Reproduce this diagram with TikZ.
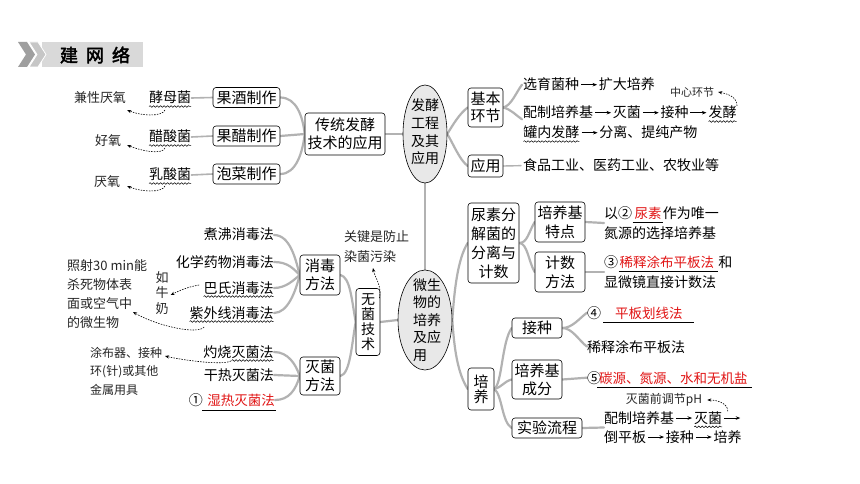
\documentclass[tikz,border=0pt]{standalone}
\usepackage{fontspec}
\setmainfont{Noto Sans CJK SC}
\newfontfamily\hdrfont[AutoFakeBold=2.5]{Noto Sans CJK SC}
\usetikzlibrary{arrows.meta,decorations.pathmorphing,shapes.geometric}
\pgfdeclarelayer{bg}
\pgfsetlayers{bg,main}
\definecolor{conngray}{RGB}{178,178,178}
\definecolor{ansred}{RGB}{225,20,20}
\definecolor{ellfill}{RGB}{232,232,232}
\definecolor{hdrgray}{RGB}{217,217,217}
\newcommand{\myarr}{\hspace{1.5pt}\tikz[baseline=0pt]\draw[-{Stealth[length=4.5pt,width=3.5pt]},line width=0.7pt](0pt,5.3pt)--(16pt,5.3pt);\hspace{1.5pt}}
\newcommand{\wv}[1]{\tikz[baseline=(wvn.base)]{\node[inner sep=0pt,outer sep=0pt](wvn){#1};\draw[line width=0.5pt,decorate,decoration={snake,amplitude=0.8pt,segment length=3.5pt}]([yshift=-3.5pt]wvn.base west)--([yshift=-3.5pt]wvn.base east);}}
\newcommand{\blank}[3]{\tikz[baseline=(bkn.base)]{\node[inner sep=0pt,outer sep=0pt,text=ansred,font=\fontsize{13.5}{16}\selectfont](bkn){#3};\draw[line width=0.6pt]([xshift=-#1,yshift=-4pt]bkn.base west)--([xshift=#2,yshift=-4pt]bkn.base east);}}
\begin{document}
\begin{tikzpicture}[x=1pt,y=-1pt,
  conn/.style={draw=conngray, line width=2.2pt, line cap=round},
  boxn/.style={draw, line width=0.6pt, rounded corners=3pt, inner sep=0pt, fill=white, align=center, font=\fontsize{15}{18}\selectfont},
  txt/.style={inner sep=0pt, font=\fontsize{14}{17}\selectfont},
  ans/.style={inner sep=0pt, text=ansred, font=\fontsize{13.5}{16}\selectfont},
  hand/.style={inner sep=0pt, font=\fontsize{13}{19}\selectfont, text=black!85},
  ell/.style={ellipse, draw, line width=0.6pt, fill=ellfill, inner sep=0pt},
  dotarr/.style={dash pattern=on 1.5pt off 1.2pt, line width=0.6pt, -{Stealth[length=4pt,width=3.2pt]}},
  ulline/.style={line width=0.6pt}]
\useasboundingbox (0,0) rectangle (860,484);
% header
\fill[hdrgray] (42,42) rectangle (143,67);
\fill[gray!75] (18,42)--(27,42)--(35,54.5)--(27,67)--(18,67)--(26,54.5)--cycle;
\filldraw[fill=gray!45, draw=white, line width=0.8pt] (29,42)--(38,42)--(46,54.5)--(38,67)--(29,67)--(37,54.5)--cycle;
\node[inner sep=0pt, font=\hdrfont\bfseries\fontsize{18}{18}\selectfont] (hdr) at (95,55) {建\hspace{8pt}网\hspace{8pt}络};

% ===== top section =====
\node[hand] (n1) at (100,98) {兼性厌氧};
\node[hand] (n2) at (108,141) {好氧};
\node[hand] (n3) at (107,182) {厌氧};
\node[txt, anchor=base] (jm) at (170,103) {\wv{酵母菌}};
\node[txt, anchor=base] (cs) at (170,142) {\wv{醋酸菌}};
\node[txt, anchor=base] (rs) at (170,180) {\wv{乳酸菌}};
\node[boxn, minimum width=67, minimum height=20] (gj) at (246.5,97.5) {果酒制作};
\node[boxn, minimum width=67, minimum height=20] (gc) at (246.5,136) {果醋制作};
\node[boxn, minimum width=67, minimum height=20] (pc) at (246.5,174) {泡菜制作};
\node[boxn, minimum width=80, minimum height=42] (ct) at (345,134) {传统发酵\\技术的应用};
\node[ell, minimum width=44, minimum height=98] (e1) at (425,134) {};
\node[inner sep=0pt, align=center, font=\fontsize{14}{17.7}\selectfont] (e1t) at (425,132) {发酵\\工程\\及其\\应用};
\node[boxn, minimum width=35, minimum height=39, font=\fontsize{15}{17}\selectfont] (jb) at (485.5,107.5) {基本\\环节};
\node[boxn, minimum width=35, minimum height=22] (yy) at (485.5,166) {应用};
\node[txt, anchor=base west] (l1) at (523,90) {选育菌种\myarr 扩大培养};
\node[txt, anchor=base west] (l2) at (523,118) {配制培养基\myarr 灭菌\myarr 接种\myarr \wv{发酵}};
\node[txt, anchor=base west] (l3) at (523,138) {\wv{罐内发酵}\myarr 分离、提纯产物};
\node[txt, anchor=base west] (l4) at (523,171) {食品工业、医药工业、农牧业等};
\node[hand, font=\fontsize{11}{13}\selectfont] (n4) at (692,92) {中心环节};

% ===== bottom section =====
\node[ell, minimum width=54, minimum height=100] (e2) at (425,320) {};
\node[inner sep=0pt, align=left, font=\fontsize{14}{17.5}\selectfont] (e2t) at (427,320) {微生\\物的\\培养\\及应\\用};
\node[boxn, minimum width=51, minimum height=80, font=\fontsize{15}{19}\selectfont] (ns) at (493.5,243) {尿素分\\解菌的\\分离与\\计数};
\node[boxn, minimum width=50, minimum height=40, font=\fontsize{15}{19}\selectfont] (tz) at (560,222) {培养基\\特点};
\node[boxn, minimum width=50, minimum height=40, font=\fontsize{15}{19}\selectfont] (js) at (560,272) {计数\\方法};
\node[txt, anchor=west, align=left, font=\fontsize{14}{20}\selectfont] (t1) at (604,223) {以②\blank{2pt}{1pt}{尿素}作为唯一\\氮源的选择培养基};
\node[txt, anchor=west, align=left, font=\fontsize{14}{20}\selectfont] (t2) at (604,272) {③\blank{1pt}{4pt}{稀释涂布平板法}和\\显微镜直接计数法};
\node[boxn, minimum width=26, minimum height=42, font=\fontsize{15}{15}\selectfont] (py) at (481,389) {培\\养};
\node[boxn, minimum width=50, minimum height=20] (jz) at (537,328) {接种};
\node[boxn, minimum width=50, minimum height=39, font=\fontsize{15}{18}\selectfont] (pyjcf) at (537,379.5) {培养基\\成分};
\node[boxn, minimum width=70, minimum height=20] (sylc) at (547,428) {实验流程};
\node[txt, anchor=base west] (c4) at (587,318) {④};
\node[ans, anchor=base west] (a4) at (615,318) {平板划线法};
\node[txt, anchor=base west] (xt) at (587,352) {稀释涂布平板法};
\node[txt, anchor=base west] (c5) at (587,383) {⑤};
\node[ans, anchor=base west] (a5) at (599,383) {碳源、氮源、水和无机盐};
\node[txt, anchor=west, align=left, font=\fontsize{14}{19}\selectfont] (lc) at (604,427.5) {配制培养基\myarr\wv{灭菌}\myarr\\倒平板\myarr 接种\myarr 培养};
\node[hand, font=\fontsize{12}{14}\selectfont] (n5) at (664,400) {灭菌前调节pH};

% left bottom
\node[txt, anchor=base east] (zf) at (274,240) {煮沸消毒法};
\node[txt, anchor=base east] (hx) at (274,267) {化学药物消毒法};
\node[txt, anchor=base east] (bs) at (274,293) {\wv{巴氏消毒法}};
\node[txt, anchor=base east] (zw) at (274,318) {\wv{紫外线消毒法}};
\node[txt, anchor=base east] (zs) at (274,357) {灼烧\wv{灭菌法}};
\node[txt, anchor=base east] (gr) at (274,380) {干热灭菌法};
\node[ans, anchor=base east] (sr) at (275,405) {湿热灭菌法};
\node[txt, anchor=base east] (c1) at (203,405) {①};
\node[boxn, minimum width=40, minimum height=40] (xd) at (320,275) {消毒\\方法};
\node[boxn, minimum width=40, minimum height=38] (mj) at (320,376) {灭菌\\方法};
\node[boxn, minimum width=24, minimum height=67, font=\fontsize{14}{15}\selectfont] (wj) at (368,322) {无\\菌\\技\\术};
\node[hand, anchor=west, align=left, font=\fontsize{13}{20}\selectfont] (gjn) at (344,247) {关键是防止\\染菌污染};
\node[hand, anchor=west, align=left, font=\fontsize{13}{19}\selectfont] (zsn) at (67,294) {照射30 min能\\杀死物体表\\面或空气中\\的微生物};
\node[hand, align=center, font=\fontsize{13}{15.5}\selectfont] (rn) at (162,293) {如\\牛\\奶};
\node[hand, anchor=west, align=left, font=\fontsize{12}{18.5}\selectfont] (tbn) at (90,371) {涂布器、接种\\环(针)或其他\\金属用具};

% underlines
\draw[ulline] ([xshift=-12,yshift=-4]a4.base west) -- ([xshift=11,yshift=-4]a4.base east);
\draw[ulline] ([xshift=-2,yshift=-4]a5.base west) -- ([xshift=4,yshift=-4]a5.base east);
\draw[ulline] ([xshift=-5,yshift=-5]sr.base west) -- ([xshift=1,yshift=-5]sr.base east);

% dotted arrows
\draw[dotarr] ([xshift=-5,yshift=-7]jm.base) .. controls +(-3,7) and +(14,6) .. ([xshift=1,yshift=-12]n1.east);
\draw[dotarr] ([xshift=-5,yshift=-6]cs.base) .. controls +(-3,7) and +(14,6) .. ([xshift=6,yshift=-4]n2.east);
\draw[dotarr] ([xshift=-5,yshift=-6]rs.base) .. controls +(-3,7) and +(14,6) .. ([xshift=7,yshift=-4]n3.east);
\draw[dotarr] (l2.north east) .. controls +(0,-9) and +(10,2) .. ([xshift=4]n4.east);
\draw[dotarr] ([xshift=-14]lc.north east) .. controls +(0,-8) and +(10,0) .. ([xshift=5]n5.east);
\draw[dotarr] ([xshift=-1,yshift=-10]wj.north east) .. controls +(3,-12) and +(2,10) .. ([xshift=29,yshift=-21]gjn.west);
\draw[dotarr] ([xshift=-4,yshift=8]bs.base west) .. controls +(-12,2) and +(8,-4) .. ([xshift=2,yshift=-2]rn.east);
\draw[dotarr] ([xshift=15,yshift=-9]zw.base west) .. controls +(-6,8) and +(24,14) .. ([xshift=66,yshift=-18]zsn.west);
\draw[dotarr] ([xshift=28,yshift=-4]zs.base west) .. controls +(-10,5) and +(12,3) .. ([xshift=75,yshift=15]tbn.west);

% connectors
\begin{pgfonlayer}{bg}
\fill[white] (0,0) rectangle (860,484);
\draw[conn, line width=1.6pt] ([yshift=5]jm.base east) -- (gj.west);
\draw[conn, line width=1.6pt] ([yshift=5]cs.base east) -- (gc.west);
\draw[conn, line width=1.6pt] ([yshift=5]rs.base east) -- (pc.west);
\draw[conn] (gj.east) .. controls +(16,0) and +(-2,-18) .. (ct.west);
\draw[conn] (gc.east) -- (ct.west);
\draw[conn] (pc.east) .. controls +(16,0) and +(-2,18) .. (ct.west);
\draw[conn] (ct.east) -- (e1.west);
\draw[conn] (e1.east) .. controls +(6,-10) and +(-8,6) .. (jb.west);
\draw[conn] (e1.east) .. controls +(6,10) and +(-8,-6) .. (yy.west);
\draw[conn] (jb.east) .. controls +(8,-2) and +(-6,8) .. ([xshift=-1]l1.west);
\draw[conn] (jb.east) .. controls +(8,2) and +(-6,-4) .. ([xshift=-1,yshift=-5]l2.west);
\draw[conn, line width=1.4pt] (yy.east) -- ([xshift=-2]l4.west);
\draw[conn] (e1.south) -- (e2.north);
\draw[conn] (e2.east) .. controls +(2,-30) and +(-10,16) .. (ns.west);
\draw[conn] (e2.east) .. controls +(2,30) and +(-10,-16) .. (py.west);
\draw[conn] (ns.east) .. controls +(8,0) and +(-6,10) .. (tz.west);
\draw[conn] (ns.east) .. controls +(8,0) and +(-6,-10) .. (js.west);
\draw[conn] (tz.east) -- (t1.west);
\draw[conn] (js.east) -- (t2.west);
\draw[conn] (py.east) .. controls +(8,-6) and +(-10,14) .. (jz.west);
\draw[conn] (py.east) .. controls +(8,-2) and +(-8,2) .. (pyjcf.west);
\draw[conn] (py.east) .. controls +(8,6) and +(-10,-6) .. (sylc.west);
\draw[conn] (jz.east) .. controls +(10,0) and +(-8,6) .. (c4.west);
\draw[conn] (jz.east) .. controls +(10,0) and +(-8,-6) .. (xt.west);
\draw[conn] (pyjcf.east) -- (c5.west);
\draw[conn] (sylc.east) -- (lc.west);
\draw[conn] ([yshift=5]zf.base east) .. controls +(16,0) and +(-4,-16) .. (xd.west);
\draw[conn] ([yshift=5]hx.base east) .. controls +(14,0) and +(-6,-6) .. (xd.west);
\draw[conn] ([yshift=5]bs.base east) .. controls +(12,0) and +(-6,5) .. (xd.west);
\draw[conn] ([yshift=5]zw.base east) .. controls +(14,0) and +(-4,16) .. (xd.west);
\draw[conn] ([yshift=5]zs.base east) .. controls +(14,0) and +(-4,-12) .. (mj.west);
\draw[conn] ([yshift=5]gr.base east) -- (mj.west);
\draw[conn] ([yshift=5]sr.base east) .. controls +(14,0) and +(-4,14) .. (mj.west);
\draw[conn] (xd.east) .. controls +(10,2) and +(-4,-22) .. (wj.west);
\draw[conn] (mj.east) .. controls +(10,-2) and +(-4,22) .. (wj.west);
\draw[conn] (wj.east) -- (e2.west);
\end{pgfonlayer}
\end{tikzpicture}
\end{document}
